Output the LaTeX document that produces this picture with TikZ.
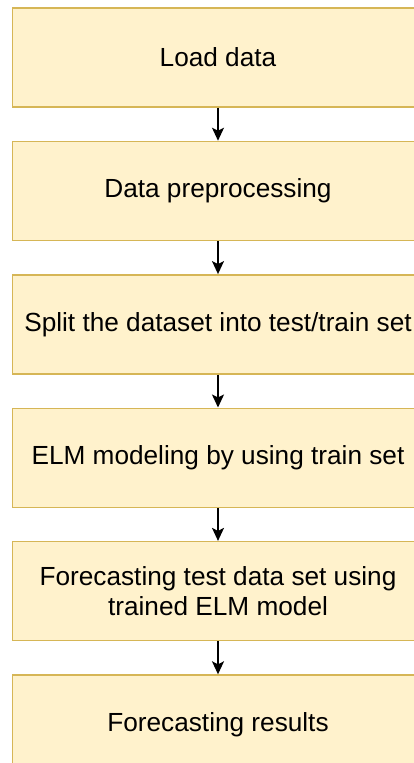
\documentclass[tikz,border=0pt]{standalone}
\usepackage{fontspec}
\setmainfont{Liberation Sans}
\usetikzlibrary{positioning,arrows.meta}

\definecolor{boxfill}{HTML}{FFF2CC}
\definecolor{boxline}{HTML}{D6B656}

\begin{document}
\begin{tikzpicture}[x=1pt, y=1pt, node distance=33pt,
    stage/.style={draw=boxline, fill=boxfill, line width=1.4pt,
      minimum width=411pt, minimum height=99pt, inner sep=0pt,
      align=center, font=\fontsize{26.2}{30}\selectfont},
    flow/.style={-{Stealth[length=13pt, width=12pt, inset=3pt]}, line width=1.6pt}]
  \useasboundingbox (0,0) rectangle (414,-763);
  \clip (0,0) rectangle (414,-763);

  \node[stage] (load) at (218,-57.5) {Load data};
  \node[stage, below=of load] (prep) {Data preprocessing};
  \node[stage, below=of prep] (split) {Split the dataset into test/train set};
  \node[stage, below=of split] (model) {ELM modeling by using train set};
  \node[stage, below=of model] (fore) {Forecasting test data set using\\trained ELM model};
  \node[stage, below=of fore] (res) {Forecasting results};

  \foreach \a/\b in {load/prep, prep/split, split/model, model/fore, fore/res}
    \draw[flow] (\a) -- (\b);
\end{tikzpicture}
\end{document}
